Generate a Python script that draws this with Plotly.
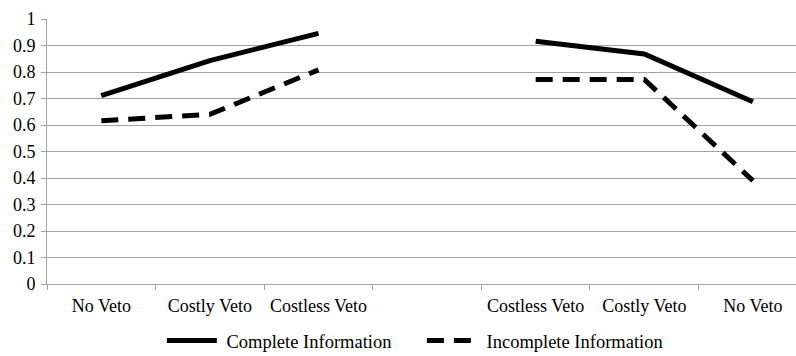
import plotly.graph_objects as go

categories = ["No Veto", "Costly Veto", "Costless Veto", "", "Costless Veto", "Costly Veto", "No Veto"]
complete_info = [0.711, 0.843, 0.946, None, 0.916, 0.868, 0.688]
incomplete_info = [0.616, 0.640, 0.808, None, 0.772, 0.772, 0.390]
y_ticks = [0, 0.1, 0.2, 0.3, 0.4, 0.5, 0.6, 0.7, 0.8, 0.9, 1]
y_ticktext = ["0", "0.1", "0.2", "0.3", "0.4", "0.5", "0.6", "0.7", "0.8", "0.9", "1"]

xs = list(range(len(categories)))
label_idx = [i for i, c in enumerate(categories) if c]
boundaries = [i - 0.5 for i in range(len(categories) + 1)]

FONT = "Liberation Serif"
GRID = "#a3a3a3"

fig = go.Figure()
fig.add_trace(go.Scatter(x=xs, y=complete_info, mode="lines", name="\u00a0Complete Information",
                         line=dict(color="black", width=5), connectgaps=False))
fig.add_trace(go.Scatter(x=xs, y=incomplete_info, mode="lines", name="\u00a0Incomplete Information",
                         line=dict(color="black", width=5, dash="17px,10px"), connectgaps=False))

fig.update_layout(
    width=796, height=356,
    margin=dict(l=47, r=0, t=19, b=72, autoexpand=False),
    paper_bgcolor="white", plot_bgcolor="white",
    font=dict(family=FONT, size=17, color="black"),
    showlegend=True,
    legend=dict(orientation="h", xref="container", x=0.530, xanchor="center",
                yref="container", y=0.042, yanchor="middle",
                font=dict(family=FONT, size=18.5), itemwidth=50, traceorder="normal",
                entrywidth=195, entrywidthmode="pixels"),
    xaxis=dict(
        range=[-0.5, 6.397], automargin=False,
        tickmode="array", tickvals=[xs[i] for i in label_idx],
        ticktext=[categories[i] for i in label_idx],
        ticks="", showgrid=False, zeroline=False,
        showline=True, linecolor=GRID, linewidth=1,
        minor=dict(tickmode="array", tickvals=boundaries, ticks="outside",
                   ticklen=5, tickcolor=GRID, showgrid=False),
        tickfont=dict(family=FONT, size=18), ticklabelstandoff=5,
    ),
    yaxis=dict(
        range=[0, 1], tickmode="array", tickvals=y_ticks, ticktext=y_ticktext, automargin=False,
        showgrid=True, gridcolor=GRID, gridwidth=1,
        zeroline=False, showline=True, linecolor=GRID, linewidth=1,
        ticks="outside", ticklen=5, tickcolor=GRID, ticklabelstandoff=2,
        tickfont=dict(family=FONT, size=18),
    ),
)

fig.write_html("out.html", config={"displayModeBar": False},
               post_script="document.body.style.margin='0';document.body.style.padding='0';")
